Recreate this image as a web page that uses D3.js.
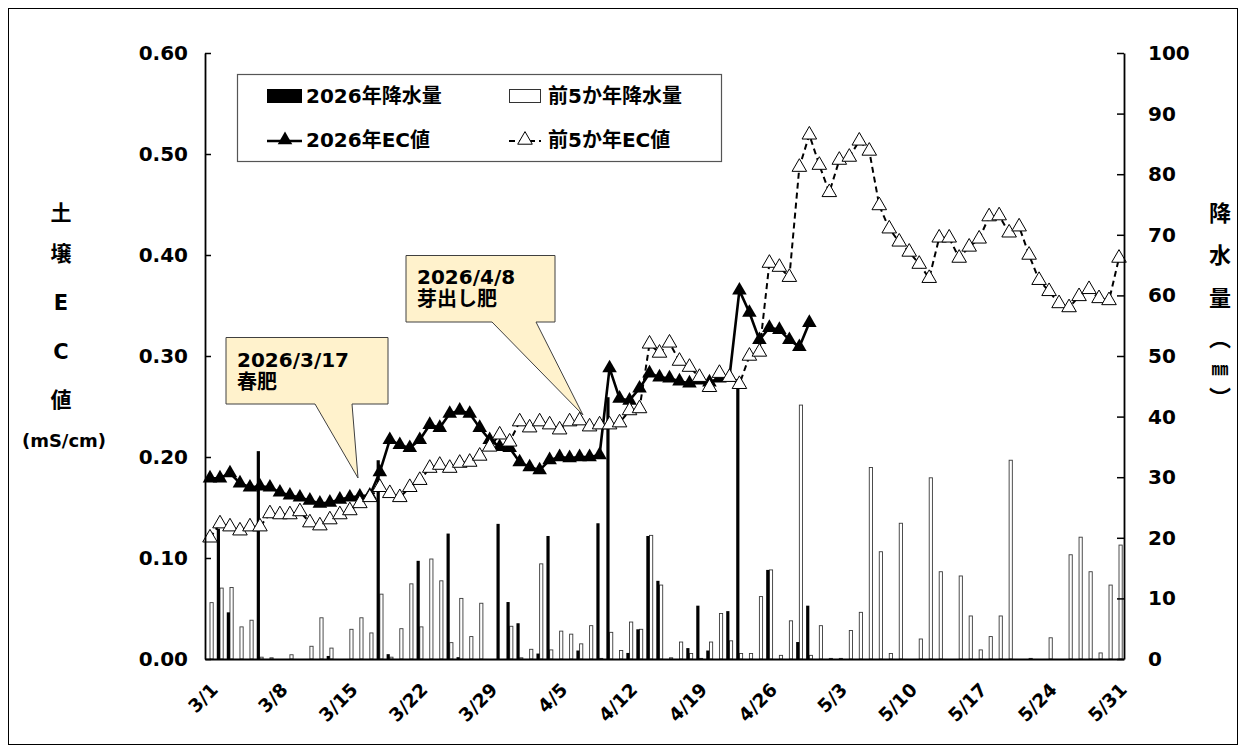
<!DOCTYPE html>
<html>
<head>
<meta charset="utf-8">
<script src="https://cdn.jsdelivr.net/npm/d3@7"></script>
<style>
    body { margin: 0; background: #fff; }
    svg text { font-family: 'DejaVu Sans', 'Noto Sans CJK JP', sans-serif; font-weight: bold; fill: #000; }
</style>
</head>
<body>
<svg id="chart" width="1247" height="753"></svg>
<script>
'use strict';

// Tick labels on the date axis
const tickLabels = ['3/1', '3/8', '3/15', '3/22', '3/29', '4/5', '4/12', '4/19', '4/26', '5/3', '5/10', '5/17', '5/24', '5/31'];

// Daily rainfall 2026 (mm), 3/1 - 4/30
const rain2026 = [
    0, 21.5, 7.7, 0, 0, 34.3, 0, 0, 0, 0,
    0, 0, 0.5, 0, 0, 0, 0, 32.8, 0.8, 0,
    0, 16.2, 0, 0, 20.7, 0.3, 0, 0, 0, 22.3,
    9.4, 5.9, 0, 0.9, 20.3, 0, 0, 1.4, 0, 22.4,
    43.2, 0, 1.0, 4.9, 20.3, 12.9, 0, 0, 1.8, 8.8,
    1.4, 0, 7.9, 46.2, 0, 0, 14.7, 0, 0, 2.8,
    8.8
];

// Daily rainfall, previous 5-year mean (mm), 3/1 - 5/31
const rainAvg = [
    9.3, 11.7, 11.8, 5.3, 6.4, 0.3, 0.2, 0, 0.7, 0,
    2.1, 6.8, 1.8, 0, 4.9, 6.8, 4.3, 10.7, 0.3, 5.0,
    12.4, 5.3, 16.5, 12.9, 2.7, 10.0, 3.7, 9.2, 0, 0,
    5.4, 0.2, 1.6, 15.7, 1.5, 4.6, 4.1, 2.5, 5.5, 0.1,
    4.4, 1.4, 6.1, 4.9, 20.4, 12.2, 0.2, 2.8, 0.9, 0.1,
    2.8, 7.5, 3.0, 0.9, 0.9, 10.3, 14.7, 0.6, 6.3, 41.9,
    0.6, 5.5, 0.1, 0.1, 4.7, 7.7, 31.6, 17.7, 0.9, 22.4,
    0, 3.3, 29.9, 14.4, 0, 13.7, 7.1, 1.5, 3.7, 7.1,
    32.8, 0, 0.1, 0, 3.5, 0, 17.2, 20.1, 14.4, 1.0,
    12.2, 18.8
];

// Soil EC 2026 (mS/cm), 3/1 - 4/30
const ec2026 = [
    0.179, 0.179, 0.184, 0.174, 0.170, 0.171, 0.170, 0.165, 0.162, 0.160,
    0.157, 0.154, 0.155, 0.158, 0.160, 0.161, 0.162, 0.185, 0.217, 0.212,
    0.209, 0.217, 0.232, 0.229, 0.243, 0.246, 0.243, 0.229, 0.217, 0.210,
    0.209, 0.195, 0.190, 0.187, 0.197, 0.200, 0.199, 0.200, 0.200, 0.202,
    0.288, 0.258, 0.256, 0.268, 0.283, 0.279, 0.278, 0.275, 0.273, 0.276,
    0.274, 0.278, 0.279, 0.365, 0.343, 0.316, 0.328, 0.326, 0.316, 0.309,
    0.333
];

// Soil EC, previous 5-year mean (mS/cm), 3/1 - 5/31
const ecAvg = [
    0.120, 0.134, 0.131, 0.127, 0.131, 0.131, 0.144, 0.143, 0.143, 0.146,
    0.135, 0.132, 0.138, 0.143, 0.147, 0.154, 0.160, 0.170, 0.164, 0.160,
    0.170, 0.177, 0.189, 0.192, 0.189, 0.194, 0.195, 0.201, 0.210, 0.222,
    0.215, 0.235, 0.229, 0.235, 0.232, 0.227, 0.235, 0.236, 0.230, 0.232,
    0.232, 0.234, 0.246, 0.248, 0.312, 0.303, 0.313, 0.295, 0.289, 0.279,
    0.269, 0.283, 0.279, 0.272, 0.300, 0.304, 0.392, 0.388, 0.378, 0.487,
    0.519, 0.489, 0.462, 0.494, 0.497, 0.513, 0.503, 0.449, 0.426, 0.413,
    0.403, 0.391, 0.377, 0.417, 0.417, 0.397, 0.408, 0.416, 0.438, 0.439,
    0.422, 0.428, 0.400, 0.375, 0.364, 0.352, 0.348, 0.359, 0.366, 0.357,
    0.355, 0.397
];

// Fertiliser notes
const notes = [
    {'lines': ['2026/3/17', '春肥']},
    {'lines': ['2026/4/8', '芽出し肥']}
];

// IIFE
(function () {

    // Get svg
    const svg = d3.select('#chart');

    // Config
    const plot = {'left': 205, 'right': 1124, 'top': 53, 'bottom': 659};
    const barW = 3.2;

    // Category dates 3/1 - 5/31
    const days = d3.timeDay.range(new Date(2026, 2, 1), new Date(2026, 5, 1))
        .map((d) => `${d.getMonth() + 1}/${d.getDate()}`);

    // Outer frame
    svg.append('rect')
        .attr('x', 8.5).attr('y', 8.5)
        .attr('width', 1229).attr('height', 736)
        .attr('fill', '#fff')
        .attr('stroke', '#000')
        .attr('stroke-width', 1);

    // Scales
    const scX = d3.scaleBand()
        .domain(days)
        .range([plot.left, plot.right]);

    const cx = (i) => scX(days[i]) + scX.bandwidth() / 2;

    const scEC = d3.scaleLinear()
        .domain([0, 0.6])
        .range([plot.bottom, plot.top]);

    const scRain = d3.scaleLinear()
        .domain([0, 100])
        .range([plot.bottom, plot.top]);

    // Bars: previous 5 years (white, right half)
    svg.append('g')
        .selectAll('rect')
        .data(rainAvg)
        .enter()
        .append('rect')
            .attr('x', (d, i) => cx(i))
            .attr('y', (d) => scRain(d))
            .attr('width', barW)
            .attr('height', (d) => scRain(0) - scRain(d))
            .attr('fill', '#fff')
            .attr('stroke', '#3a3a3a')
            .attr('stroke-width', 0.9);

    // Bars: 2026 (black, left half)
    svg.append('g')
        .selectAll('rect')
        .data(rain2026)
        .enter()
        .append('rect')
            .attr('x', (d, i) => cx(i) - barW)
            .attr('y', (d) => scRain(d))
            .attr('width', barW)
            .attr('height', (d) => scRain(0) - scRain(d))
            .attr('fill', '#000');

    // Line generators
    const line = d3.line()
        .x((d, i) => cx(i))
        .y((d) => scEC(d));

    const tri = d3.symbol().type(d3.symbolTriangle).size(92);

    // 2026 EC line
    svg.append('path')
        .datum(ec2026)
        .attr('d', line)
        .attr('fill', 'none')
        .attr('stroke', '#000')
        .attr('stroke-width', 2.6);

    svg.append('g')
        .selectAll('path')
        .data(ec2026)
        .enter()
        .append('path')
            .attr('d', tri)
            .attr('transform', (d, i) => `translate(${cx(i)}, ${scEC(d)})`)
            .attr('fill', '#000');

    // Previous 5 year EC line
    svg.append('path')
        .datum(ecAvg)
        .attr('d', line)
        .attr('fill', 'none')
        .attr('stroke', '#000')
        .attr('stroke-width', 2)
        .attr('stroke-dasharray', '6,4');

    svg.append('g')
        .selectAll('path')
        .data(ecAvg)
        .enter()
        .append('path')
            .attr('d', tri)
            .attr('transform', (d, i) => `translate(${cx(i)}, ${scEC(d)})`)
            .attr('fill', '#fff')
            .attr('stroke', '#000')
            .attr('stroke-width', 1);

    // X axis
    const xAxis = svg.append('g')
        .attr('transform', `translate(0, ${plot.bottom})`)
        .call(d3.axisBottom(scX).tickValues(tickLabels).tickSize(0).tickPadding(0));

    xAxis.select('.domain').attr('stroke-width', 1.8);

    xAxis.selectAll('.tick text')
        .attr('font-size', 18.5)
        .attr('text-anchor', 'end')
        .attr('dy', 0)
        .attr('y', 0)
        .attr('transform', 'translate(9, 32) rotate(-45)');

    // Left axis
    const yAxis = svg.append('g')
        .attr('transform', `translate(${plot.left}, 0)`)
        .call(d3.axisLeft(scEC)
            .tickValues(d3.range(0, 0.61, 0.1))
            .tickFormat(d3.format('.2f'))
            .tickSizeInner(-6)
            .tickSizeOuter(0)
            .tickPadding(17));

    yAxis.select('.domain').attr('stroke-width', 1.8);
    yAxis.selectAll('.tick line').attr('stroke-width', 1.5);
    yAxis.selectAll('.tick text').attr('font-size', 20);

    // Right axis
    const y2Axis = svg.append('g')
        .attr('transform', `translate(${plot.right}, 0)`)
        .call(d3.axisRight(scRain)
            .tickValues(d3.range(0, 101, 10))
            .tickSizeInner(-7)
            .tickSizeOuter(0)
            .tickPadding(24));

    y2Axis.select('.domain').attr('stroke-width', 1.8);
    y2Axis.selectAll('.tick line').attr('stroke-width', 1.5);
    y2Axis.selectAll('.tick text').attr('font-size', 20);

    // Axis titles, written vertically one glyph at a time
    const leftTitle = [['土', 213], ['壌', 254], ['E', 303], ['C', 352], ['値', 400]];
    svg.append('g')
        .selectAll('text')
        .data(leftTitle)
        .enter()
        .append('text')
            .attr('x', 61)
            .attr('y', (d) => d[1])
            .attr('dy', '0.35em')
            .attr('text-anchor', 'middle')
            .attr('font-size', 21)
            .text((d) => d[0]);

    svg.append('text')
        .attr('x', 64)
        .attr('y', 441)
        .attr('dy', '0.35em')
        .attr('text-anchor', 'middle')
        .attr('font-size', 18)
        .text('(mS/cm)');

    const rightTitle = [['降', 213, 22], ['水', 255, 22], ['量', 298, 22], ['︵', 338, 22], ['㎜', 369, 17], ['︶', 398, 22]];
    svg.append('g')
        .selectAll('text')
        .data(rightTitle)
        .enter()
        .append('text')
            .attr('x', 1220)
            .attr('y', (d) => d[1])
            .attr('dy', '0.35em')
            .attr('text-anchor', 'middle')
            .attr('font-size', (d) => d[2])
            .style('font-family', "'Noto Sans CJK JP', sans-serif")
            .text((d) => d[0]);

    // Legend
    const legend = svg.append('g');

    legend.append('rect')
        .attr('x', 237.5).attr('y', 74.5)
        .attr('width', 484).attr('height', 87)
        .attr('fill', '#fff')
        .attr('stroke', '#555')
        .attr('stroke-width', 1.2);

    legend.append('rect')
        .attr('x', 267).attr('y', 89).attr('width', 35).attr('height', 14)
        .attr('fill', '#000');

    legend.append('rect')
        .attr('x', 509.5).attr('y', 89.5).attr('width', 31).attr('height', 13)
        .attr('fill', '#fff').attr('stroke', '#333').attr('stroke-width', 1);

    legend.append('line')
        .attr('x1', 267).attr('x2', 302).attr('y1', 141).attr('y2', 141)
        .attr('stroke', '#000').attr('stroke-width', 2.6);

    legend.append('path')
        .attr('d', tri)
        .attr('transform', 'translate(285, 140)')
        .attr('fill', '#000');

    legend.append('line')
        .attr('x1', 509).attr('x2', 541).attr('y1', 141).attr('y2', 141)
        .attr('stroke', '#000').attr('stroke-width', 2)
        .attr('stroke-dasharray', '6,4');

    legend.append('path')
        .attr('d', tri)
        .attr('transform', 'translate(525, 140)')
        .attr('fill', '#fff').attr('stroke', '#000').attr('stroke-width', 1);

    const legendText = [['2026年降水量', 306, 96], ['前5か年降水量', 548, 96], ['2026年EC値', 306, 140], ['前5か年EC値', 548, 140]];
    legend.selectAll('text')
        .data(legendText)
        .enter()
        .append('text')
            .attr('x', (d) => d[1])
            .attr('y', (d) => d[2])
            .attr('dy', '0.35em')
            .attr('font-size', 20)
            .text((d) => d[0]);

    // Callouts
    const calloutPaths = [
        'M226,337.5 H388 V404 H352 L358,478 L315,404 H226 Z',
        'M406,255.5 H555 V322 H536 L583,415 L492,322 H406 Z'
    ];
    const calloutText = [[237, 360], [417, 277]];

    notes.forEach((n, k) => {

        const g = svg.append('g');

        g.append('path')
            .attr('d', calloutPaths[k])
            .attr('fill', '#fff2cc')
            .attr('stroke', '#404040')
            .attr('stroke-width', 1);

        g.selectAll('text')
            .data(n.lines)
            .enter()
            .append('text')
                .attr('x', calloutText[k][0])
                .attr('y', (d, j) => calloutText[k][1] + j * 22)
                .attr('dy', '0.35em')
                .attr('font-size', 20)
                .text((d) => d);
    });

})();
</script>
</body>
</html>
